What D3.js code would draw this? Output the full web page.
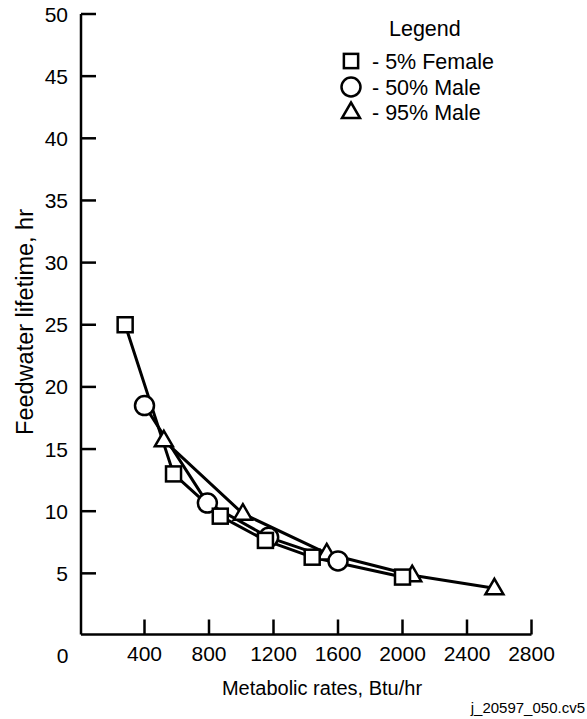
<!DOCTYPE html>
<html>
<head>
<meta charset="utf-8">
<script src="https://cdn.jsdelivr.net/npm/d3@7"></script>
<style>
  html, body { margin: 0; padding: 0; background: #fff; }
  svg { display: block; }
  text { font-family: "Liberation Sans", Arial, Helvetica, sans-serif; fill: #000; }
</style>
</head>
<body>
<svg id="chart" width="587" height="719"></svg>
<script>
// ---- data ----
const femaleX = [280, 580, 870, 1150, 1440, 2000];
const femaleY = [25.0, 13.0, 9.6, 7.65, 6.3, 4.7];
const male50X = [400, 790, 1170, 1600];
const male50Y = [18.5, 10.65, 7.9, 6.0];
const male95X = [520, 1010, 1530, 2060, 2570];
const male95Y = [15.7, 9.8, 6.6, 4.85, 3.8];
const xTicks = [400, 800, 1200, 1600, 2000, 2400, 2800];
const yTicks = [5, 10, 15, 20, 25, 30, 35, 40, 45, 50];
const seriesNames = ["- 5% Female", "- 50% Male", "- 95% Male"];
const seriesSymbols = ["square", "circle", "triangle"];

const svg = d3.select("#chart");
const x = d3.scaleLinear().domain([0, 2800]).range([80, 531.5]);
const y = d3.scaleLinear().domain([0, 50]).range([635.5, 14]);

const axisX0 = 81, axisY0 = 634.5;

// axes lines
svg.append("line").attr("x1", axisX0).attr("x2", axisX0).attr("y1", y(50)).attr("y2", axisY0)
  .attr("stroke", "#000").attr("stroke-width", 2.5);
svg.append("line").attr("x1", axisX0).attr("x2", x(2800)).attr("y1", axisY0).attr("y2", axisY0)
  .attr("stroke", "#000").attr("stroke-width", 2.5);

// y ticks
svg.selectAll(".yt").data(yTicks).join("line")
  .attr("x1", axisX0).attr("x2", axisX0 + 15)
  .attr("y1", d => y(d)).attr("y2", d => y(d))
  .attr("stroke", "#000").attr("stroke-width", 2.5);
svg.selectAll(".ytl").data(yTicks).join("text")
  .attr("x", 68).attr("y", d => y(d)).attr("dy", "0.36em")
  .attr("text-anchor", "end").attr("font-size", 21)
  .text(d => d);

// x ticks
svg.selectAll(".xt").data(xTicks).join("line")
  .attr("x1", d => x(d)).attr("x2", d => x(d))
  .attr("y1", axisY0).attr("y2", axisY0 - 15)
  .attr("stroke", "#000").attr("stroke-width", 2.5);
svg.selectAll(".xtl").data(xTicks).join("text")
  .attr("x", d => x(d)).attr("y", 661)
  .attr("text-anchor", "middle").attr("font-size", 21)
  .text(d => d);
svg.append("text").attr("x", 62.5).attr("y", 663).attr("text-anchor", "middle")
  .attr("font-size", 21).text("0");

// axis titles
svg.append("text").attr("x", 322).attr("y", 695).attr("text-anchor", "middle")
  .attr("font-size", 20).text("Metabolic rates, Btu/hr");
svg.append("text").attr("transform", "translate(33,322) rotate(-90)")
  .attr("text-anchor", "middle").attr("font-size", 23.5).text("Feedwater lifetime, hr");

// footer id
svg.append("text").attr("x", 585).attr("y", 713).attr("text-anchor", "end")
  .attr("font-size", 15).text("j_20597_050.cv5");

// markers
function drawSymbol(g, type, cx, cy, scale) {
  const s = scale || 1;
  if (type === "square") {
    const h = 7.5 * s;
    g.append("rect").attr("x", cx - h).attr("y", cy - h).attr("width", 2 * h).attr("height", 2 * h)
      .attr("fill", "#fff").attr("stroke", "#000").attr("stroke-width", 2.5);
  } else if (type === "circle") {
    g.append("circle").attr("cx", cx).attr("cy", cy).attr("r", 9.5 * s)
      .attr("fill", "#fff").attr("stroke", "#000").attr("stroke-width", 2.5);
  } else {
    const w = 9 * s, hTop = 9.5 * s, hBot = 6 * s;
    g.append("path")
      .attr("d", `M${cx},${cy - hTop}L${cx + w},${cy + hBot}L${cx - w},${cy + hBot}Z`)
      .attr("fill", "#fff").attr("stroke", "#000").attr("stroke-width", 2.5).attr("stroke-linejoin", "miter");
  }
}

const series = [
  { xs: male95X, ys: male95Y, sym: "triangle" },
  { xs: male50X, ys: male50Y, sym: "circle" },
  { xs: femaleX, ys: femaleY, sym: "square" }
];
const line = d3.line().x(d => x(d[0])).y(d => y(d[1]));
const linesG = svg.append("g");
series.forEach(s => {
  const pts = s.xs.map((v, i) => [v, s.ys[i]]);
  linesG.append("path").datum(pts).attr("d", line)
    .attr("fill", "none").attr("stroke", "#000").attr("stroke-width", 3).attr("stroke-linejoin", "round");
});
const markG = svg.append("g");
series.forEach(s => {
  s.xs.forEach((v, i) => drawSymbol(markG, s.sym, x(v), y(s.ys[i]), 1));
});

// legend
const lg = svg.append("g");
lg.append("text").attr("x", 389).attr("y", 36).attr("font-size", 21.5).text("Legend");
const legendY = [61, 87, 112];
seriesNames.forEach((name, i) => {
  drawSymbol(lg, seriesSymbols[i], 351, legendY[i], i === 0 ? 0.95 : 1);
  lg.append("text").attr("x", 372).attr("y", legendY[i]).attr("dy", "0.36em")
    .attr("font-size", 21.5).text(name);
});
</script>
</body>
</html>
